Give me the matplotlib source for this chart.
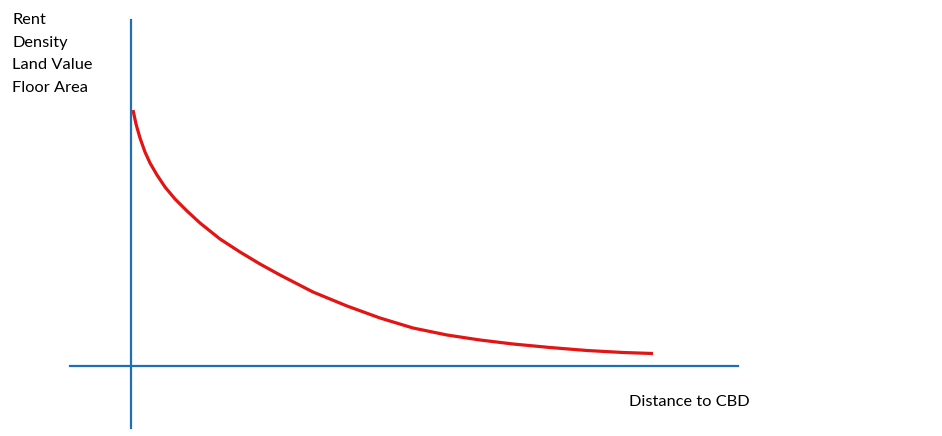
import matplotlib.pyplot as plt
import numpy as np

# curve: distance from CBD vs value (arbitrary units, origin at axes crossing)
distance = [2, 5, 9, 14, 19, 26, 34, 44, 56, 69, 89, 109, 129, 149, 182, 216, 249, 282, 316, 349, 382, 419, 456, 492, 522]
value = [256, 242, 228, 214, 203, 191, 179, 167, 155, 143, 127, 114, 102, 91, 74, 60, 48, 38, 31, 26, 22, 18.5, 15.5, 13.5, 12.5]

y_labels = ['Rent', 'Density', 'Land Value', 'Floor Area']
x_label = 'Distance to CBD'

blue = '#1F6FB6'
red = '#E31414'

plt.rcParams['font.family'] = ['Lato', 'DejaVu Sans']

fig = plt.figure(figsize=(9.42, 4.36), dpi=100)
ax = fig.add_axes([0, 0, 1, 1])
ax.set_xlim(-131, 811)
ax.set_ylim(-70, 366)

ax.plot(distance, value, color=red, lw=2.3, solid_capstyle='butt', solid_joinstyle='round')

# axes drawn as plain lines
ax.plot([0, 0], [-62, 346], color=blue, lw=1.6)
ax.plot([-61, 607], [0, 0], color=blue, lw=1.6)

for i, lab in enumerate(y_labels):
    ax.text(-119, 342 - i * 22.6, lab, fontsize=11.8, va='baseline', ha='left')
ax.text(498, -40, x_label, fontsize=11.8, va='baseline', ha='left')

ax.axis('off')
fig.savefig('out.png', dpi=100, facecolor='white')
